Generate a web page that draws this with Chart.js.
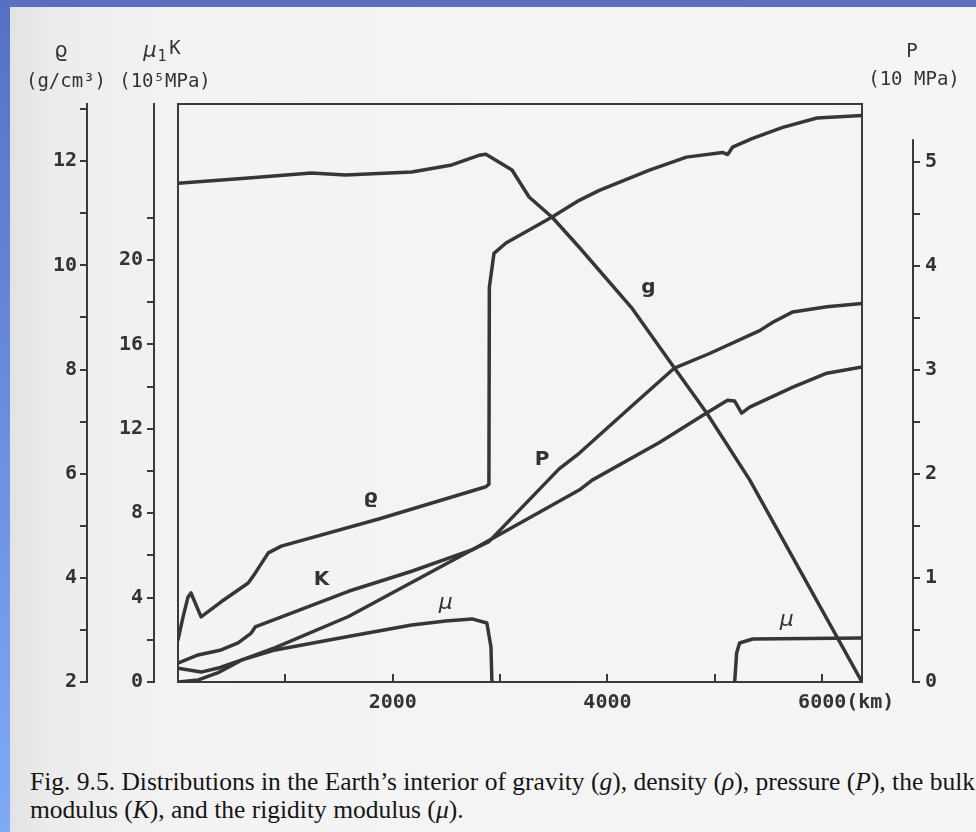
<!DOCTYPE html>
<html>
<head>
<meta charset="utf-8">
<script src="https://cdn.jsdelivr.net/npm/chart.js@4.4.1/dist/chart.umd.min.js"></script>
<style>
  html, body { margin: 0; padding: 0; }
  body {
    width: 976px; height: 832px; position: relative; overflow: hidden;
    background: linear-gradient(90deg, #e0e0e0 0px, #ececec 50px, #f3f3f3 180px, #f5f5f5 976px);
  }
  #topbar { position: absolute; left: 0; top: 0; width: 976px; height: 7px; background: #5a6fc2; }
  #leftbar { position: absolute; left: 0; top: 0; width: 10px; height: 832px;
             background: linear-gradient(180deg, #5670c6, #6c90e4 55%, #80aaf4); }
  #wrap { position: absolute; left: 0; top: 0; width: 976px; height: 740px; }
  #caption { position: absolute; left: 30px; top: 768px; font-family: "Liberation Serif", serif;
             font-size: 25.5px; line-height: 28px; color: #151515; white-space: nowrap; }
</style>
</head>
<body>
<div id="topbar"></div>
<div id="leftbar"></div>
<div id="wrap"><canvas id="c" width="976" height="740"></canvas></div>
<div id="caption">Fig. 9.5. Distributions in the Earth’s interior of gravity (<i>g</i>), density (<i>ρ</i>), pressure (<i>P</i>), the bulk<br>modulus (<i>K</i>), and the rigidity modulus (<i>μ</i>).</div>

<script>
// Profundidad en km
const gKm   = [0, 626, 1242, 1560, 2177, 2550, 2803, 2868, 3111, 3270, 3485, 3737, 4232, 4624, 4923, 5325, 6371];
const gVal  = [9.82, 9.92, 10.02, 9.98, 10.04, 10.18, 10.37, 10.39, 10.08, 9.55, 9.15, 8.56, 7.35, 6.18, 5.3, 3.98, 0];

const rhoKm  = [0, 47, 93, 121, 215, 402, 654, 719, 841, 962, 1870, 2868, 2896, 2900, 2943, 3055, 3485, 3737, 3924, 4391, 4736, 5072, 5120, 5165, 5352, 5633, 5951, 6371];
const rhoVal = [2.81, 3.25, 3.63, 3.71, 3.25, 3.54, 3.9, 4.09, 4.48, 4.61, 5.13, 5.75, 5.8, 9.58, 10.23, 10.43, 10.93, 11.25, 11.44, 11.83, 12.08, 12.17, 12.13, 12.27, 12.44, 12.65, 12.83, 12.88];

const pKm  = [0, 190, 374, 590, 906, 1588, 2737, 2896, 3550, 3737, 4232, 4624, 4951, 5418, 5540, 5727, 6044, 6371];
const pVal = [0, 0.02, 0.09, 0.21, 0.33, 0.63, 1.27, 1.35, 2.05, 2.2, 2.66, 3.02, 3.16, 3.38, 3.46, 3.56, 3.61, 3.64];

const kKm  = [0, 187, 402, 560, 682, 719, 934, 1588, 2177, 2737, 3737, 3858, 4484, 4923, 5119, 5185, 5250, 5325, 5727, 6044, 6371];
const kVal = [0.9, 1.28, 1.52, 1.85, 2.32, 2.61, 3.03, 4.3, 5.25, 6.26, 9.1, 9.57, 11.35, 12.75, 13.36, 13.32, 12.75, 13.03, 13.98, 14.64, 14.93];

const muKm  = [0, 215, 374, 588, 906, 1560, 2177, 2494, 2737, 2877, 2915, 2924, 4000, 5185, 5203, 5231, 5353, 6371];
const muVal = [0.65, 0.47, 0.66, 1.04, 1.52, 2.13, 2.7, 2.89, 2.99, 2.8, 1.66, 0, null, 0, 1.37, 1.85, 2.04, 2.08];

// Marcas de los ejes
const xTicks   = [1000, 2000, 3000, 4000, 5000, 6000];
const rhoTicks = [2, 3, 4, 5, 6, 7, 8, 9, 10, 11, 12, 13];
const mkTicks  = [0, 2, 4, 6, 8, 10, 12, 14, 16, 18, 20, 22];
const pTicks   = [0, 0.5, 1, 1.5, 2, 2.5, 3, 3.5, 4, 4.5, 5];

// Rótulos de las curvas (en coordenadas de datos)
const curveLabels = [
  { text: 'ϱ', km: 1794, axis: 'rho', v: 5.53, kind: 'bold' },
  { text: 'K', km: 1336, axis: 'mk',  v: 4.83, kind: 'bold' },
  { text: 'μ', km: 2494, axis: 'mk',  v: 3.74, kind: 'ital' },
  { text: 'P', km: 3391, axis: 'p',   v: 2.14, kind: 'bold' },
  { text: 'g', km: 4381, axis: 'g',   v: 7.76, kind: 'bold' },
  { text: 'μ', km: 5671, axis: 'mk',  v: 2.94, kind: 'ital' }
];

const pts = (xs, ys) => xs.map((x, i) => ({ x, y: ys[i] }));

const AXIS = '#3a3a3a';
const LINE = '#363636';
const TXT  = '#333';
const tickFont = { family: 'DejaVu Sans Mono', size: 20, weight: 'bold' };

function fixW(w) { return s => { s.width = w; }; }
function setTicks(list) { return s => { s.ticks = list.map(v => ({ value: v })); }; }

function series(label, xs, ys, axis) {
  return {
    label, data: pts(xs, ys), yAxisID: axis, xAxisID: 'x',
    borderColor: LINE, borderWidth: 3.5, pointRadius: 0, tension: 0,
    borderJoinStyle: 'round', borderCapStyle: 'round', spanGaps: false, fill: false
  };
}

// Encabezados de ejes, rótulos y eje P corto
const decor = {
  id: 'decor',
  afterDraw(chart) {
    const { ctx, scales, chartArea } = chart;
    const top = chartArea.top;
    ctx.save();
    ctx.fillStyle = TXT;
    ctx.textBaseline = 'middle';
    ctx.textAlign = 'center';

    curveLabels.forEach(l => {
      ctx.font = l.kind === 'ital' ? 'oblique 22px "DejaVu Sans"' : 'bold 20px "DejaVu Sans"';
      ctx.fillText(l.text, scales.x.getPixelForValue(l.km), scales[l.axis].getPixelForValue(l.v));
    });

    const rx = scales.rho.right, mx = scales.mk.right, px = scales.p.left;
    ctx.font = '21px "DejaVu Sans"';
    ctx.fillText('ϱ', rx - 26, top - 52);
    ctx.font = '19px "DejaVu Sans Mono"';
    ctx.fillText('(g/cm³)', rx - 21, top - 22);
    ctx.fillText('(10⁵MPa)', mx + 11, top - 22);
    ctx.fillText('P', px - 1, top - 52);
    ctx.fillText('(10 MPa)', px + 1, top - 24);

    ctx.font = 'oblique 21px "DejaVu Sans"';
    ctx.fillText('μ', mx - 4, top - 52);
    ctx.font = '15px "DejaVu Sans Mono"';
    ctx.fillText('1', mx + 8, top - 47);
    ctx.font = '19px "DejaVu Sans Mono"';
    ctx.fillText('K', mx + 21, top - 55);

    // eje P: la línea sólo llega hasta ~5.2
    ctx.strokeStyle = AXIS;
    ctx.lineWidth = 2;
    ctx.beginPath();
    ctx.moveTo(px, scales.p.getPixelForValue(0) + 1);
    ctx.lineTo(px, scales.p.getPixelForValue(5.22));
    ctx.stroke();
    ctx.restore();
  }
};

new Chart(document.getElementById('c').getContext('2d'), {
  type: 'line',
  data: {
    datasets: [
      series('g', gKm, gVal, 'g'),
      series('ρ', rhoKm, rhoVal, 'rho'),
      series('P', pKm, pVal, 'p'),
      series('K', kKm, kVal, 'mk'),
      series('μ', muKm, muVal, 'mk')
    ]
  },
  options: {
    responsive: false,
    animation: false,
    devicePixelRatio: 1,
    layout: { padding: { top: 104, left: 0, right: 0, bottom: 0 } },
    plugins: { legend: { display: false }, tooltip: { enabled: false } },
    scales: {
      x: {
        type: 'linear', position: 'bottom', min: 0, max: 6371,
        afterBuildTicks: setTicks(xTicks),
        afterFit: s => { s.height = 58; },
        grid: { drawOnChartArea: false, tickLength: -8, color: AXIS, lineWidth: 2 },
        border: { color: AXIS, width: 2 },
        ticks: {
          font: tickFont, color: TXT, padding: 17, maxRotation: 0, autoSkip: false,
          callback: v => v % 2000 !== 0 ? '' : (v === 6000 ? '    6000(km)' : String(v))
        }
      },
      xTop: {
        type: 'linear', position: 'top', min: 0, max: 6371,
        afterFit: s => { s.height = 0; },
        grid: { display: false }, ticks: { display: false },
        border: { color: AXIS, width: 2 }
      },
      rho: {
        type: 'linear', position: 'left', weight: 3, min: 2, max: 13.1,
        afterFit: fixW(87), afterBuildTicks: setTicks(rhoTicks),
        grid: { drawOnChartArea: false, tickLength: 7, color: AXIS, lineWidth: 2 },
        border: { color: AXIS, width: 2 },
        ticks: { font: tickFont, color: TXT, padding: 3, autoSkip: false,
                 callback: v => v % 2 === 0 ? String(v) : '' }
      },
      mk: {
        type: 'linear', position: 'left', weight: 2, min: 0, max: 27.4,
        afterFit: fixW(67), afterBuildTicks: setTicks(mkTicks),
        grid: { drawOnChartArea: false, tickLength: 7, color: AXIS, lineWidth: 2 },
        border: { color: AXIS, width: 2 },
        ticks: { font: tickFont, color: TXT, padding: 4, autoSkip: false,
                 callback: v => (v % 4 === 0 && v <= 20) ? String(v) : '' }
      },
      gapL: {
        type: 'linear', position: 'left', weight: 1,
        afterFit: fixW(24),
        grid: { display: false }, ticks: { display: false },
        border: { color: AXIS, width: 2 }
      },
      gapR: {
        type: 'linear', position: 'right', weight: 1,
        afterFit: fixW(51),
        grid: { display: false }, ticks: { display: false },
        border: { color: AXIS, width: 2 }
      },
      p: {
        type: 'linear', position: 'right', weight: 2, min: 0, max: 5.56,
        afterFit: fixW(63), afterBuildTicks: setTicks(pTicks),
        grid: { drawOnChartArea: false, tickLength: 7, color: AXIS, lineWidth: 2 },
        border: { display: false },
        ticks: { font: tickFont, color: TXT, padding: 5, autoSkip: false,
                 callback: v => Number.isInteger(v) ? String(v) : '' }
      },
      g: { type: 'linear', display: false, min: 0, max: 11.38 }
    }
  },
  plugins: [decor]
});
</script>
</body>
</html>
